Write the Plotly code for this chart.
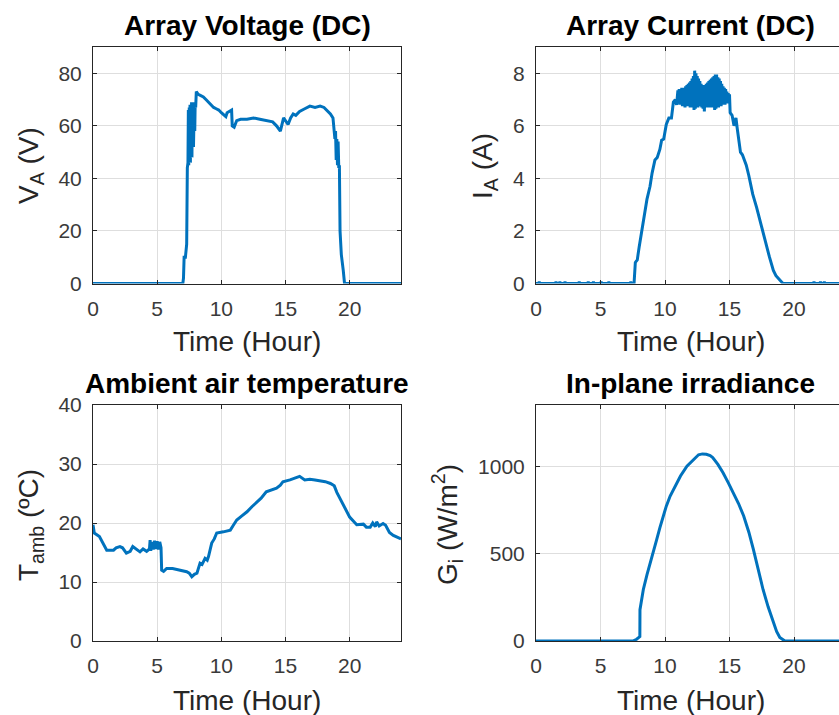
import plotly.graph_objects as go

# ---------------- data ----------------
volt_t = [0, 7.0, 7.05, 7.1, 7.2, 7.25, 7.3, 7.35, 7.4, 7.43, 7.46, 7.5, 7.53, 7.56, 7.59, 7.62,
          7.65, 7.68, 7.71, 7.74, 7.77, 7.8, 7.83, 7.86, 7.9, 7.93, 7.96, 8.0, 8.05, 8.2, 8.4, 8.6,
          8.8, 9.0, 9.2, 9.4, 9.6, 9.8, 10.0, 10.2, 10.35, 10.45, 10.6, 10.8, 10.85, 11.0, 11.2,
          11.5, 12.0, 12.5, 13.0, 13.5, 14.0, 14.3, 14.6, 14.85, 15.0, 15.2, 15.4, 15.6, 15.8,
          16.1, 16.5, 16.9, 17.3, 17.7, 18.0, 18.2, 18.5, 18.7, 18.8, 18.85, 18.9, 18.95, 19.0,
          19.05, 19.1, 19.15, 19.2, 19.25, 19.35, 19.5, 19.6, 24]
volt_v = [0, 0, 2, 10, 10, 15, 15, 44, 46, 66, 45, 67, 47, 68, 46, 68,
          50, 69, 48, 68, 55, 69, 52, 60, 66, 58, 68, 67, 73, 72, 71.5, 71,
          70, 69, 68, 67, 66.5, 66, 65, 64, 63.5, 65, 65.5, 66, 60, 59.5, 62,
          62.5, 62.5, 63, 62.5, 62, 61.5, 60, 58, 63, 62, 60.5, 63, 64.5, 64,
          65.5, 66.5, 67.5, 67, 67.5, 67, 66, 64.5, 63, 57, 55, 58, 47, 55,
          45, 54, 44, 45, 20, 11, 5, 0, 0]

curr_t = [0, 0.2, 0.25, 0.3, 1.5, 1.55, 1.6, 1.8, 1.85, 1.9, 2.2, 2.25, 2.3, 3.3, 3.35, 3.4,
          4.0, 4.05, 4.1, 4.4, 4.45, 4.5, 5.0, 5.05, 5.1, 5.6, 5.65, 5.7, 7.3, 7.35, 7.4,
          7.6, 7.7, 7.85, 8.0, 8.1, 8.3, 8.45, 8.6, 8.84, 9.0, 9.22, 9.4, 9.6, 9.74, 9.9, 10.1,
          10.3, 10.5, 10.65, 10.8, 10.9,
          11.00, 11.05, 11.10, 11.15, 11.20, 11.25, 11.30, 11.35, 11.40, 11.45, 11.50, 11.55,
          11.60, 11.65, 11.70, 11.75, 11.80, 11.85, 11.90, 11.95, 12.00, 12.05, 12.10, 12.15,
          12.20, 12.25, 12.30, 12.35, 12.40, 12.45, 12.50, 12.55, 12.60, 12.65, 12.70, 12.75,
          12.80, 12.85, 12.90, 12.95, 13.00, 13.05, 13.10, 13.15, 13.20, 13.25, 13.30, 13.35,
          13.40, 13.45, 13.50, 13.55, 13.60, 13.65, 13.70, 13.75, 13.80, 13.85, 13.90, 13.95,
          14.00, 14.05, 14.10, 14.15, 14.20, 14.25, 14.30, 14.35, 14.40, 14.45, 14.50, 14.55,
          14.60, 14.65, 14.70, 14.75, 14.80, 14.85, 14.90, 14.95, 15.00,
          15.05, 15.2, 15.35, 15.5, 15.6, 15.75, 15.85, 16.0, 16.3, 16.5, 16.8, 17.1, 17.35,
          17.6, 17.9, 18.1, 18.4, 18.6, 18.9, 19.15, 21.5, 21.55, 21.6, 22.0, 22.05, 22.1,
          22.3, 22.35, 22.4, 24]
curr_i = [0, 0, 0.06, 0, 0, 0.06, 0, 0, 0.06, 0, 0, 0.06, 0, 0, 0.06, 0,
          0, 0.06, 0, 0, 0.06, 0, 0, 0.06, 0, 0, 0.06, 0, 0, 0.06, 0,
          0.0, 0.8, 0.9, 1.4, 1.7, 2.3, 2.8, 3.2, 3.7, 4.2, 4.7, 4.8, 5.1, 5.45, 5.5, 6.05,
          6.3, 6.3, 6.9, 7.0, 6.8,
          7.35, 6.90, 7.40, 6.80, 7.40, 6.85, 7.45, 6.75, 7.40, 6.80, 7.45, 6.70,
          7.50, 6.80, 7.55, 6.75, 7.60, 6.85, 7.65, 6.70, 7.70, 6.80, 7.80, 6.70,
          7.90, 6.60, 8.10, 6.65, 8.00, 6.80, 7.90, 6.70, 7.80, 6.75, 7.70, 6.85,
          7.60, 6.70, 7.55, 6.65, 7.50, 6.55, 7.55, 6.80, 7.60, 6.70, 7.65, 6.85,
          7.70, 6.70, 7.75, 6.80, 7.80, 6.70, 7.85, 6.75, 7.90, 6.60, 7.95, 6.65,
          7.95, 6.80, 7.85, 6.70, 7.80, 6.85, 7.70, 6.75, 7.60, 6.80, 7.50, 6.90,
          7.45, 6.80, 7.40, 6.90, 7.30, 6.85, 7.25, 6.90, 7.20,
          6.5, 6.4, 6.0, 6.3, 5.9, 5.3, 5.0, 4.9, 4.5, 4.1, 3.4, 2.9, 2.4,
          1.9, 1.4, 1.0, 0.5, 0.3, 0.13, 0.0, 0, 0.06, 0, 0, 0.06, 0,
          0, 0.06, 0, 0]

temp_t = [0, 0.1, 0.5, 0.8, 1.07, 1.6, 1.8, 2.1, 2.3, 2.6, 2.9, 3.1, 3.4, 3.66, 3.9, 4.18, 4.4,
          4.45, 4.5, 4.6, 4.7, 4.8, 4.9, 5.0, 5.1, 5.2, 5.3, 5.35, 5.5, 5.74, 6.2, 6.8, 7.0, 7.3,
          7.5, 7.7, 7.9, 8.1, 8.34, 8.5, 8.73, 8.9, 9.0, 9.25, 9.45, 9.64, 10.16, 10.7, 10.9, 11.2,
          11.6, 12.0, 12.4, 12.76, 13.1, 13.5, 13.9, 14.3, 14.6, 14.8, 15.35, 15.8, 16.1, 16.5,
          16.9, 17.3, 17.7, 18.1, 18.5, 18.8, 19.0, 19.3, 19.5, 19.8, 20.0, 20.3, 20.55, 21.07,
          21.3, 21.6, 21.8, 22.0, 22.1, 22.3, 22.6, 22.8, 23.1, 23.4, 23.67, 24]
temp_c = [19.7, 18.3, 17.7, 16.5, 15.4, 15.4, 15.8, 16.0, 15.8, 14.9, 15.2, 16.0, 15.5, 15.1, 15.6, 15.2, 15.6,
          17.1, 15.3, 16.8, 15.5, 17.0, 15.6, 16.9, 15.5, 16.8, 15.8, 12.0, 11.8, 12.3, 12.3, 12.0, 12.0, 11.75,
          11.5, 10.9, 11.3, 11.5, 13.2, 13.0, 14.0, 13.7, 14.3, 16.6, 17.3, 18.3, 18.5, 18.8, 19.5, 20.5,
          21.2, 21.9, 22.8, 23.6, 24.2, 25.3, 25.6, 25.9, 26.4, 27.0, 27.3, 27.6, 27.9, 27.3,
          27.4, 27.3, 27.2, 27.0, 26.7, 26.3, 25.2, 24.0, 23.0, 22.0, 21.0, 20.3, 19.7, 19.8,
          19.3, 19.3, 20.0, 19.4, 20.2, 19.5, 19.9, 19.6, 18.4, 17.9, 17.6, 17.3]

irr_t = [0, 7.5, 7.8, 7.95, 8.05, 8.06, 8.32, 8.6, 8.84, 9.1, 9.36, 9.6, 9.87, 10.1, 10.4, 10.8,
         11.2, 11.7, 12.2, 12.6, 12.9, 13.2, 13.5, 13.7, 14.1, 14.5, 14.9, 15.3, 15.7, 16.1, 16.5,
         16.85, 17.2, 17.6, 18.0, 18.4, 18.65, 18.9, 19.3, 24]
irr_g = [0, 0, 10, 20, 25, 180, 296, 380, 450, 520, 584, 650, 718, 775, 833, 895,
         948, 1005, 1044, 1070, 1075, 1073, 1065, 1054, 1015, 967, 910, 852, 790, 718, 625,
         526, 415, 296, 195, 105, 55, 20, 0, 0]

x_ticks = [0, 5, 10, 15, 20]
volt_ticks = [0, 20, 40, 60, 80]
curr_ticks = [0, 2, 4, 6, 8]
temp_ticks = [0, 10, 20, 30, 40]
irr_ticks = [0, 500, 1000]

titles = ["Array Voltage (DC)", "Array Current (DC)", "Ambient air temperature", "In-plane irradiance"]
x_label = "Time (Hour)"
y_labels = ["V<sub>A</sub> (V)", "I<sub>A</sub> (A)", "T<sub>amb</sub> (ºC)", "G<sub>i</sub> (W/m<sup>2</sup>)"]

# ---------------- layout helpers ----------------
W, H = 839, 715
FONT = "Liberation Sans, Arial, Helvetica, sans-serif"
LINE = "#0072BD"
AX = "#262626"
TICKTXT = "#3a3a3a"
GRID = "#dedede"

def px_x(p):
    return p / W

def px_y(p):
    return 1 - p / H

left_dom = [px_x(93), px_x(401)]
right_dom = [px_x(536), 1.0]
top_dom = [px_y(283.5), px_y(47)]
bot_dom = [px_y(641), px_y(405)]

fig = go.Figure()
series = [(volt_t, volt_v), (curr_t, curr_i), (temp_t, temp_c), (irr_t, irr_g)]
for k, (tx, vy) in enumerate(series):
    suffix = "" if k == 0 else str(k + 1)
    fig.add_trace(go.Scatter(x=tx, y=vy, mode="lines", line=dict(color=LINE, width=3),
                             xaxis="x" + suffix, yaxis="y" + suffix, showlegend=False))

def xaxis(dom, anchor, rng, mirror):
    return dict(domain=dom, anchor=anchor, range=rng, tickvals=x_ticks, ticks="inside", ticklen=4,
                tickcolor=AX, showline=True, linecolor=AX, linewidth=1, mirror=mirror,
                showgrid=True, gridcolor=GRID, gridwidth=1, zeroline=False, automargin=False,
                tickfont=dict(family=FONT, size=21, color=TICKTXT), ticklabelstandoff=6)

def yaxis(dom, anchor, rng, vals, mirror):
    return dict(domain=dom, anchor=anchor, range=rng, tickvals=vals, ticks="inside", ticklen=4,
                tickcolor=AX, showline=True, linecolor=AX, linewidth=1, mirror=mirror,
                showgrid=True, gridcolor=GRID, gridwidth=1, zeroline=False, automargin=False,
                tickfont=dict(family=FONT, size=21, color=TICKTXT), ticklabelstandoff=6)

right_range = [0, (W - 536) / 12.9]
fig.update_layout(
    width=W, height=H, paper_bgcolor="white", plot_bgcolor="white",
    margin=dict(l=0, r=0, t=0, b=0, pad=0, autoexpand=False),
    xaxis=xaxis(left_dom, "y", [0, 24], "ticks"),
    yaxis=yaxis(top_dom, "x", [0, 90], volt_ticks, "ticks"),
    xaxis2=xaxis(right_dom, "y2", right_range, "ticks"),
    yaxis2=yaxis(top_dom, "x2", [0, 9], curr_ticks, False),
    xaxis3=xaxis(left_dom, "y3", [0, 24], "ticks"),
    yaxis3=yaxis(bot_dom, "x3", [0, 40], temp_ticks, "ticks"),
    xaxis4=xaxis(right_dom, "y4", right_range, "ticks"),
    yaxis4=yaxis(bot_dom, "x4", [0, 1356], irr_ticks, False),
)

ann = []
title_pos = [(247, 25), (690.5, 25), (247, 383), (690.5, 383)]
for txt, (cx, cy) in zip(titles, title_pos):
    ann.append(dict(text="<b>%s</b>" % txt, x=px_x(cx), y=px_y(cy), xref="paper", yref="paper",
                    xanchor="center", yanchor="middle", showarrow=False,
                    font=dict(family=FONT, size=28, color="black")))
for cx, cy in [(247, 341), (690.5, 341), (247, 700), (690.5, 700)]:
    ann.append(dict(text=x_label, x=px_x(cx), y=px_y(cy), xref="paper", yref="paper",
                    xanchor="center", yanchor="middle", showarrow=False,
                    font=dict(family=FONT, size=28, color=AX)))
for txt, (cx, cy) in zip(y_labels, [(30, 166), (484, 166), (30, 525), (447, 525)]):
    ann.append(dict(text=txt, x=px_x(cx), y=px_y(cy), xref="paper", yref="paper",
                    xanchor="center", yanchor="middle", showarrow=False, textangle=-90,
                    font=dict(family=FONT, size=28, color=AX)))
fig.update_layout(annotations=ann)

fig.write_html("out.html", config={"displayModeBar": False},
               post_script="document.body.style.margin='0px';")
